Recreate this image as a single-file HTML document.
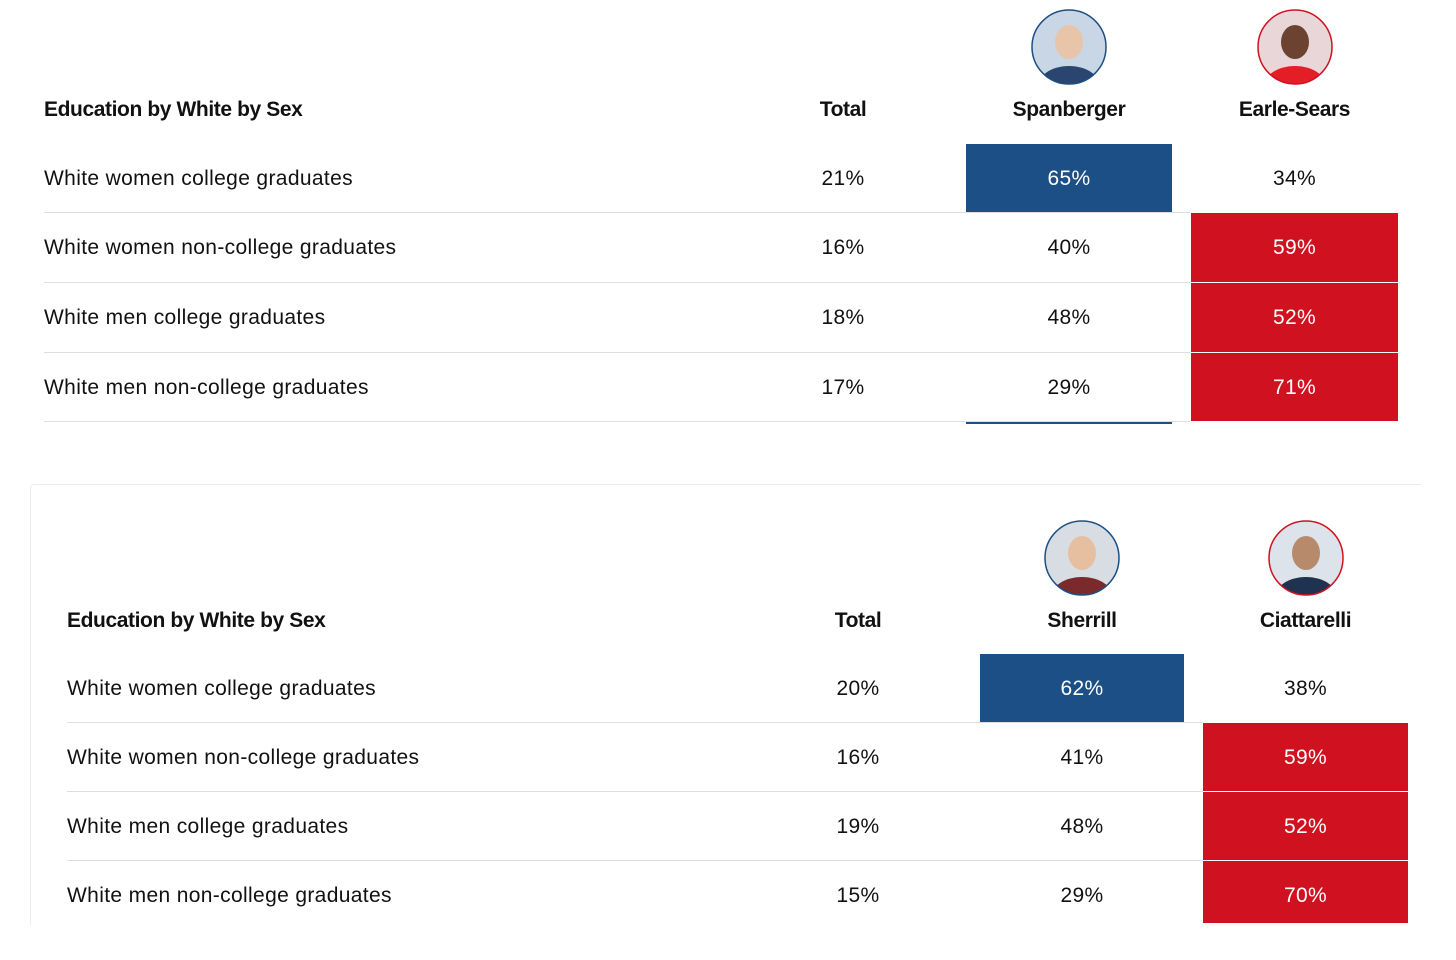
<!DOCTYPE html>
<html><head><meta charset="utf-8">
<style>
html,body{margin:0;padding:0;background:#fff;width:1456px;height:960px;overflow:hidden;font-family:"Liberation Sans",Arial,sans-serif;color:#111;}
#root{position:relative;width:1456px;height:960px;}
.abs{position:absolute;}
.t{position:absolute;white-space:nowrap;font-size:21px;line-height:24px;letter-spacing:0.35px;}
.h{font-weight:bold;font-size:21px;letter-spacing:-0.4px;}
.c{transform:translateX(-50%);}
</style></head>
<body><div id="root"></div>
<script>
// Table data
const rowLabels = ["White women college graduates","White women non-college graduates","White men college graduates","White men non-college graduates"];
const t1Title = "Education by White by Sex";
const t1Candidates = ["Spanberger","Earle-Sears"];
const t1Total = [21,16,18,17];
const t1Dem = [65,40,48,29];
const t1Rep = [34,59,52,71];
const t2Title = "Education by White by Sex";
const t2Candidates = ["Sherrill","Ciattarelli"];
const t2Total = [20,16,19,15];
const t2Dem = [62,41,48,29];
const t2Rep = [38,59,52,70];

const root = document.getElementById('root');
function el(tag, cls, css, txt){
  const e=document.createElement(tag); if(cls)e.className=cls;
  Object.assign(e.style,css||{}); if(txt!==undefined)e.textContent=txt;
  root.appendChild(e); return e;
}
const BLUE="#1b4f85", RED="#d0111f";
function avatar(cx,cy,color,bg,skin,body){
  const s=document.createElementNS("http://www.w3.org/2000/svg","svg");
  s.setAttribute("width","78");s.setAttribute("height","78");
  s.style.position="absolute";s.style.left=(cx-39)+"px";s.style.top=(cy-39)+"px";
  s.innerHTML=`<defs><clipPath id="c${cx}${cy}"><circle cx="39" cy="39" r="37"/></clipPath></defs>
  <g clip-path="url(#c${cx}${cy})"><rect width="78" height="78" fill="${bg}"/>
  <ellipse cx="39" cy="80" rx="32" ry="22" fill="${body}"/>
  <ellipse cx="39" cy="34" rx="14" ry="17" fill="${skin}"/></g>
  <circle cx="39" cy="39" r="37" fill="none" stroke="${color}" stroke-width="1.5"/>`;
  root.appendChild(s); return s;
}
function table(cfg){
  const {title,cands,total,dem,rep,labelX,totalX,demX0,demX1,repX0,repX1,headY,rowTops,rowHs,lastLine,lineEnd,avY,avs}=cfg;
  const demC=(demX0+demX1)/2, repC=(repX0+repX1)/2;
  const a1=avatar(demC,avY,BLUE,avs[0].bg,avs[0].skin,avs[0].body);
  
  
  const a2=avatar(repC,avY,RED,avs[1].bg,avs[1].skin,avs[1].body);
  
  
  let e=el('div','t h',{left:labelX+'px',top:(headY-11)+'px'},title);
  
  
  e=el('div','t h c',{left:totalX+'px',top:(headY-11)+'px'},"Total");
  
  
  e=el('div','t h c',{left:demC+'px',top:(headY-11)+'px'},cands[0]);
  
  
  e=el('div','t h c',{left:repC+'px',top:(headY-11)+'px'},cands[1]);
  
  
  rowLabels.forEach((lab,i)=>{
    const top=rowTops[i], rowH=rowHs[i], mid=top+35;
    const demWin=dem[i]>rep[i];
    const bx=demWin?demX0:repX0, bw=demWin?demX1-demX0:repX1-repX0;
    const cell=el('div','abs',{left:bx+'px',top:top+'px',width:bw+'px',height:(rowH-1)+'px',background:demWin?BLUE:RED});
    
    
    if(i<rowLabels.length-1||lastLine){
      const ln=el('div','abs',{left:labelX+'px',top:(top+rowH-1)+'px',width:(lineEnd-labelX)+'px',height:'1px',background:'#dedede'});
      
      
    }
    let t=el('div','t',{left:labelX+'px',top:(mid-12)+'px'},lab);
    
    
    t=el('div','t c',{left:totalX+'px',top:(mid-12)+'px'},total[i]+'%');
    
    
    t=el('div','t c',{left:demC+'px',top:(mid-12)+'px',color:demWin?'#fff':'#111'},dem[i]+'%');
    
    
    t=el('div','t c',{left:repC+'px',top:(mid-12)+'px',color:demWin?'#111':'#fff'},rep[i]+'%');
    
    
  });
}
table({title:t1Title,cands:t1Candidates,total:t1Total,dem:t1Dem,rep:t1Rep,labelX:44,totalX:843,demX0:966,demX1:1172,repX0:1191,repX1:1398,headY:109,rowTops:[144,213,283,353],rowHs:[69,70,70,69],lastLine:true,lineEnd:1190,avY:47,
  avs:[{bg:"#c9d6e6",skin:"#e8c4a8",body:"#2a4670"},{bg:"#e9d6d8",skin:"#6b4330",body:"#e41e26"}]});
const bl=el('div','abs',{left:'966px',top:'422px',width:'206px',height:'1.5px',background:BLUE});


const card=el('div','abs',{left:'30px',top:'484px',width:'1390px',height:'440px',borderTop:'1px solid #ececec',borderLeft:'1px solid #ececec',borderTopLeftRadius:'4px'});


table({title:t2Title,cands:t2Candidates,total:t2Total,dem:t2Dem,rep:t2Rep,labelX:67,totalX:858,demX0:980,demX1:1184,repX0:1203,repX1:1408,headY:620,rowTops:[654,723,792,861],rowHs:[69,69,69,63],lastLine:false,lineEnd:1203,avY:558,
  avs:[{bg:"#d8dde4",skin:"#e6bfa0",body:"#7a2a2a"},{bg:"#dde3ea",skin:"#b88a6c",body:"#1f3350"}]});
</script>
</body></html>
